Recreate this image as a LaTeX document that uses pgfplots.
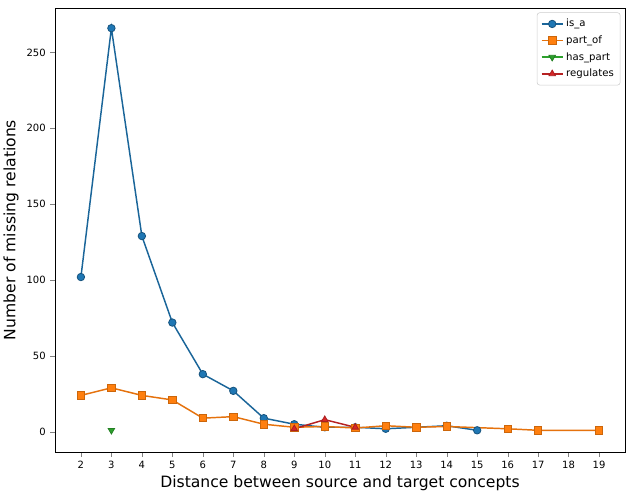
\documentclass[border=0pt]{standalone}
\usepackage{pgfplots}
\pgfplotsset{compat=1.18}
\usepackage{fontspec}
\setmainfont{DejaVu Sans}
\definecolor{tabblue}{HTML}{1F77B4}
\definecolor{taborange}{HTML}{FF7F0E}
\definecolor{tabgreen}{HTML}{2CA02C}
\definecolor{tabred}{HTML}{D62728}
\begin{document}
\begin{tikzpicture}
\path[use as bounding box] (0pt,0pt) rectangle (474.75pt,372pt);
\begin{axis}[
  at={(41.25pt,33pt)}, anchor=south west,
  width=427.5pt, height=333pt, scale only axis,
  xmin=1.15, xmax=19.85, ymin=-13.3, ymax=279.3,
  xtick={2,3,...,19}, ytick={0,50,100,150,200,250},
  tick align=outside, major tick length=3.5pt,
  xtick pos=bottom, ytick pos=left,
  tick label style={font=\fontsize{7.5}{9}\selectfont},
  /pgf/number format/assume math mode=true,
  xlabel={Distance between source and target concepts},
  ylabel={Number of missing relations},
  label style={font=\fontsize{11.7}{14}\selectfont},
  xlabel style={yshift=2pt},
  ylabel style={yshift=-1pt},
  legend style={at={(0.992,0.99)}, anchor=north east, font=\fontsize{7.6}{9}\selectfont,
    draw=black!20, rounded corners=2pt, row sep=1.2pt, inner sep=2.8pt,
    /tikz/every even column/.append style={column sep=2pt}},
  legend cell align=left,
  legend image code/.code={\draw[line width=1.1pt, mark repeat=2,mark phase=2] plot coordinates {(0cm,0cm) (0.28cm,0cm) (0.56cm,0cm)};},
  every axis plot/.append style={line width=1.1pt},
  mark size=2.8pt,
]
\addplot[color=tabblue!85!black, mark=*, mark options={fill=tabblue, draw=tabblue!70!black, line width=0.6pt}] coordinates {
(2,102)(3,266)(4,129)(5,72)(6,38)(7,27)(8,9)(9,5)(10,3)(11,3)(12,2)(13,3)(14,4)(15,1)};
\addlegendentry{is\_a}
\addplot[color=taborange!90!black, mark=square*, mark options={fill=taborange, draw=taborange!80!black, line width=0.6pt}] coordinates {
(2,24)(3,29)(4,24)(5,21)(6,9)(7,10)(8,5)(9,3)(10,3.5)(11,2.5)(12,4)(13,3)(14,3.5)(16,2)(17,1)(19,1)};
\addlegendentry{part\_of}
\addplot[color=tabgreen, mark=triangle*, mark options={rotate=180, fill=tabgreen, draw=tabgreen!80!black, line width=0.6pt}] coordinates {
(3,1)};
\addlegendentry{has\_part}
\addplot[color=tabred!85!black, mark=triangle*, mark options={fill=tabred, draw=tabred!80!black, line width=0.6pt}] coordinates {
(9,2)(10,8)(11,3)};
\addlegendentry{regulates}
\end{axis}
\end{tikzpicture}
\end{document}
